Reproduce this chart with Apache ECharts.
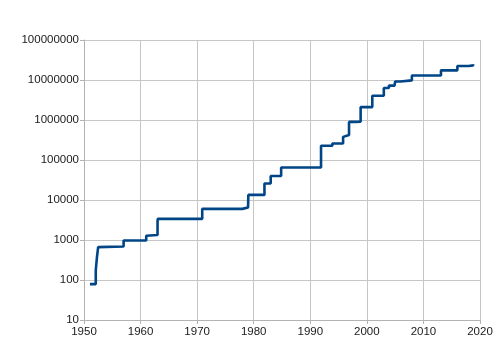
<!DOCTYPE html>
<html><head><meta charset="utf-8">
<script src="https://cdn.jsdelivr.net/npm/echarts@6/dist/echarts.min.js"></script>
<style>html,body{margin:0;padding:0;background:#fff}#c{width:500px;height:363px}</style>
</head><body><div id="c"></div>
<script>
// Year of each record and its value (digits)
const years = [1951.05, 1952.08, 1952.09, 1952.3, 1952.5, 1952.52, 1957.0, 1961.0, 1961.05, 1963.0, 1963.02, 1963.04,
  1970.9, 1978.0, 1979.0, 1979.05, 1981.9, 1983.0, 1984.85, 1991.9, 1993.9, 1995.8, 1995.9, 1996.85, 1998.0,
  1998.9, 2000.96, 2003.0, 2003.9, 2004.9, 2005.0, 2005.9, 2007.96, 2013.1, 2016.0, 2018.0, 2018.8];
const values = [79, 157, 183, 386, 664, 687, 969, 1281, 1332, 2917, 2993, 3376,
  6002, 6533, 6987, 13395, 25962, 39751, 65050, 227832, 258716, 378632, 420921, 895932, 909526,
  2098960, 4053946, 6320430, 7235733, 7816230, 9152052, 9808358, 12978189, 17425170, 22338618, 23249425, 24862048];
const xTicks = [1950, 2020, 10];
const yRange = [10, 100000000];

const chart = echarts.init(document.getElementById('c'), null, {renderer: 'canvas'});
const font = 'Liberation Sans, Arial, sans-serif';
chart.setOption({
  animation: false,
  grid: {left: 84, right: 20, top: 40, bottom: 43, containLabel: false},
  xAxis: {
    type: 'value', min: xTicks[0], max: xTicks[1], interval: xTicks[2],
    axisLine: {show: true, onZero: false, lineStyle: {color: '#b3b3b3', width: 1}},
    axisTick: {show: true, length: 4, lineStyle: {color: '#b3b3b3'}},
    axisLabel: {color: '#1a1a1a', fontFamily: font, fontSize: 11.5, margin: 6,
      formatter: v => String(Math.round(v))},
    splitLine: {show: true, lineStyle: {color: '#c6c6c6', width: 1}}
  },
  yAxis: {
    type: 'log', logBase: 10, min: yRange[0], max: yRange[1],
    axisLine: {show: true, lineStyle: {color: '#b3b3b3', width: 1}},
    axisTick: {show: true, length: 4, lineStyle: {color: '#b3b3b3'}},
    axisLabel: {color: '#1a1a1a', fontFamily: font, fontSize: 11.5, margin: 5,
      formatter: v => String(Math.round(v))},
    splitLine: {show: true, lineStyle: {color: '#c6c6c6', width: 1}}
  },
  series: [{
    type: 'line', step: 'end', showSymbol: false,
    data: years.map((y, i) => [y, values[i]]),
    lineStyle: {color: '#004586', width: 2.6},
    itemStyle: {color: '#004586'}
  }]
});
</script></body></html>
